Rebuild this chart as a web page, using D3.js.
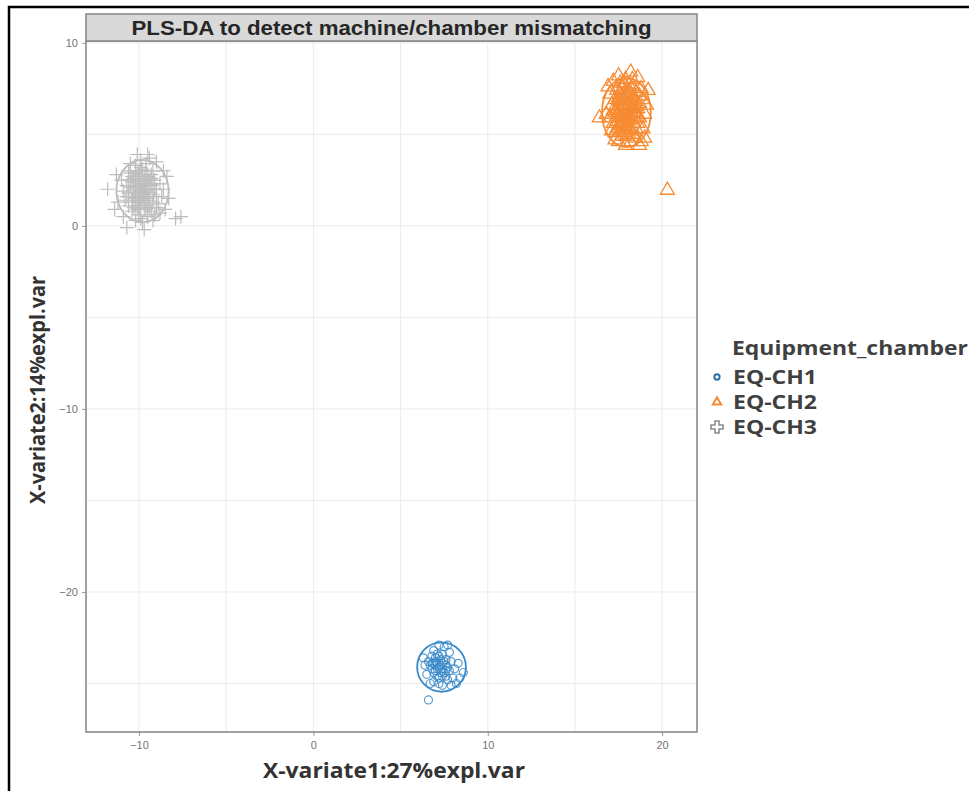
<!DOCTYPE html>
<html>
<head>
<meta charset="utf-8">
<script src="https://cdn.jsdelivr.net/npm/d3@7"></script>
<style>
  body { margin: 0; background: #fff; }
  svg { display: block; }
</style>
</head>
<body>
<svg id="chart" width="969" height="791"></svg>
<script>
// data
const groups = ["EQ-CH1", "EQ-CH2", "EQ-CH3"];
const colors = ["#3a89c9", "#f68b33", "#bdbdbd"];

const ch1Points = [
  [7.3,-24.0],[7.0,-23.6],[7.6,-24.3],[6.8,-24.2],[7.4,-23.4],[7.9,-23.8],[6.6,-23.8],[7.1,-24.6],
  [7.7,-24.8],[6.9,-23.2],[7.5,-23.0],[8.1,-24.2],[6.5,-24.5],[7.2,-25.0],[7.8,-23.3],[6.7,-25.0],
  [8.0,-24.7],[7.3,-23.7],[6.9,-24.9],[7.6,-23.7],[7.0,-24.3],[8.3,-23.9],[6.4,-24.0],[7.4,-25.1],
  [7.9,-25.1],[6.8,-23.5],[7.2,-22.9],[8.6,-24.4],[8.2,-25.0],[6.6,-25.9],[7.5,-24.4],[7.1,-23.9],
  [6.3,-23.6],[7.7,-22.9],[8.4,-24.7],[7.0,-24.0],[7.4,-24.2],[6.9,-23.9],[7.6,-24.0],[7.2,-23.5],
  [7.2,-24.1],[7.5,-23.8],[6.9,-24.4],[7.4,-24.6],[7.1,-23.4],[7.8,-24.3],[6.7,-24.0],[7.3,-24.4],
  [7.6,-24.6],[7.0,-23.8],[7.4,-23.9],[7.2,-24.7],[6.8,-23.9],[7.7,-24.1],[7.1,-24.2]
];
const ch2Points = [
  [17.9,6.3],[18.2,6.8],[17.6,5.9],[18.4,5.6],[17.5,6.9],[18.0,7.3],[17.3,6.2],[18.6,6.4],
  [17.8,5.3],[18.3,7.6],[17.4,7.4],[18.7,5.9],[17.7,4.9],[18.1,5.0],[17.2,5.6],[18.9,6.9],
  [17.6,7.8],[18.5,4.8],[17.1,6.6],[18.8,7.5],[17.9,8.0],[18.2,4.6],[17.3,5.1],[19.0,6.1],
  [17.0,7.2],[18.6,8.1],[17.5,4.6],[18.4,7.0],[17.8,6.6],[18.1,5.9],[17.6,6.4],[18.3,6.1],
  [17.4,5.7],[18.0,6.0],[18.7,7.1],[17.2,7.9],[18.9,5.3],[17.9,4.4],[18.5,5.3],[17.0,5.9],
  [19.1,6.6],[16.4,5.9],[18.2,8.4],[17.5,8.2],[18.8,4.6],[19.0,4.8],[17.3,4.7],[16.8,6.1],
  [17.7,7.1],[18.4,6.5],[17.8,5.7],[18.0,6.9],[18.6,5.6],[17.1,5.2],[18.3,8.0],[17.6,5.5],
  [18.1,7.7],[19.2,7.4],[16.9,7.6],[18.7,4.4],[17.9,6.0],[18.2,6.4],[17.7,6.2],[18.0,5.5],
  [17.5,6.5],[18.3,5.3],[17.8,7.0],[18.5,6.8],[20.3,1.95],
  [17.7,6.0],[18.1,6.6],[17.5,6.1],[18.3,6.9],[17.9,5.4],[17.6,6.8],[18.2,5.8],[17.4,6.4],
  [18.0,7.1],[17.8,5.9],[18.4,6.2],[17.6,5.2],[18.1,5.4],[17.3,6.9],[18.5,7.3],[17.7,7.5],
  [18.2,7.2],[17.5,5.4],[18.0,4.9],[17.9,6.8],[18.3,5.0],[17.4,6.0],[18.6,6.0],[17.8,7.8],
  [18.1,6.2],[17.6,7.2],[18.4,5.9],[17.2,6.3],[18.7,6.7],[17.9,5.1],[18.0,6.5],[17.7,5.6],
  [18.3,6.6],[17.5,7.0],[18.2,5.2],[17.8,6.4],[18.5,6.1],[17.4,5.3],[18.1,7.4],[17.6,6.6]
];
const ch3Points = [
  [-9.9,1.9],[-9.5,2.3],[-10.2,1.5],[-9.7,1.2],[-10.4,2.4],[-9.2,1.7],[-10.0,2.8],[-9.6,0.9],
  [-10.6,1.8],[-9.1,2.5],[-10.3,1.0],[-9.8,3.1],[-9.4,1.4],[-10.1,2.1],[-9.3,0.8],[-10.8,1.4],
  [-9.0,2.0],[-10.5,2.9],[-9.6,3.4],[-10.0,0.6],[-8.9,1.2],[-10.7,2.2],[-9.2,3.0],[-9.9,0.4],
  [-10.2,3.3],[-8.8,2.3],[-10.9,1.9],[-9.5,0.5],[-9.7,2.6],[-10.1,1.3],[-9.4,2.0],[-10.4,0.8],
  [-9.0,1.0],[-9.8,1.6],[-10.3,2.6],[-9.3,2.8],[-10.6,1.1],[-8.7,1.6],[-9.9,3.6],[-10.0,1.8],
  [-9.1,0.6],[-10.5,3.4],[-9.6,1.9],[-8.6,2.0],[-11.0,2.5],[-9.8,0.2],[-10.2,0.3],[-8.5,0.9],
  [-11.2,1.3],[-9.4,3.7],[-10.6,3.0],[-9.2,0.3],[-8.8,0.7],[-7.9,0.4],[-7.6,0.5],[-10.7,-0.1],
  [-11.8,2.0],[-8.4,2.7],[-11.3,2.8],[-9.5,3.9],[-10.1,3.9],[-8.3,1.5],[-11.4,0.9],[-9.7,-0.2],
  [-10.9,0.5],[-8.6,3.0],[-9.0,3.5],[-10.4,1.6],[-9.9,2.3],[-9.5,1.1],[-10.0,1.4],[-9.7,2.0],
  [-9.8,2.0],[-10.1,1.7],[-9.6,2.2],[-10.3,2.0],[-9.4,1.8],[-10.0,2.5],[-9.7,1.4],[-10.2,2.2],
  [-9.5,2.7],[-10.4,1.3],[-9.3,2.2],[-9.9,1.1],[-10.0,3.0],[-9.6,1.6],[-10.5,2.1],[-9.2,1.3],
  [-9.8,2.8],[-10.2,1.1],[-9.4,2.5],[-10.1,2.7],[-9.7,0.9],[-10.6,2.5],[-9.1,2.0],[-9.9,3.2],
  [-10.3,1.6],[-9.5,1.5],[-10.0,1.0],[-9.3,2.6],[-10.7,1.6],[-9.6,3.0],[-9.9,1.5],[-10.2,2.9],
  [-9.4,1.0],[-10.1,0.9],[-9.0,1.6],[-9.8,2.4],[-10.4,2.7],[-9.2,2.3],[-10.0,2.2],[-9.7,1.8]
];
// confidence ellipses: centre x, centre y, half-width, half-height
const ellipses = [
  [7.35, -24.1, 1.4, 1.35],
  [17.95, 6.2, 1.4, 1.9],
  [-9.8, 1.9, 1.5, 1.7]
];
const xTicks = [-10, 0, 10, 20];
const yTicks = [10, 0, -10, -20];
const xGrid = [-10, -5, 0, 5, 10, 15, 20];
const yGrid = [10, 5, 0, -5, -10, -15, -20, -25];

const svg = d3.select("#chart");
const panel = { left: 86, right: 697, top: 41, bottom: 732 };

// outer frame
svg.append("path")
  .attr("d", "M9,791 L9,7 L969,7")
  .attr("fill", "none").attr("stroke", "#000").attr("stroke-width", 2.5);

const x = d3.scaleLinear().domain([-13.04, 22.0]).range([panel.left, panel.right]);
const y = d3.scaleLinear().domain([-27.65, 10.1]).range([panel.bottom, panel.top]);

// grid
const grid = svg.append("g");
grid.selectAll(".vg").data(xGrid).enter().append("line")
  .attr("x1", d => x(d)).attr("x2", d => x(d))
  .attr("y1", panel.top).attr("y2", panel.bottom)
  .attr("stroke", "#ebebeb").attr("stroke-width", 1);
grid.selectAll(".hg").data(yGrid).enter().append("line")
  .attr("y1", d => y(d)).attr("y2", d => y(d))
  .attr("x1", panel.left).attr("x2", panel.right)
  .attr("stroke", "#ebebeb").attr("stroke-width", 1);

// axes
const xAxis = svg.append("g")
  .attr("transform", `translate(0,${panel.bottom})`)
  .call(d3.axisBottom(x).tickValues(xTicks).tickSize(4).tickPadding(5));
const yAxis = svg.append("g")
  .attr("transform", `translate(${panel.left},0)`)
  .call(d3.axisLeft(y).tickValues(yTicks).tickSize(4).tickPadding(4));
[xAxis, yAxis].forEach(a => {
  a.select(".domain").remove();
  a.selectAll("line").attr("stroke", "#999");
  a.selectAll("text").attr("fill", "#737373")
    .style("font-family", "Liberation Sans, Arial, sans-serif").style("font-size", "11px");
});

// ellipses
const ellG = svg.append("g");
ellG.selectAll("ellipse").data(ellipses).enter().append("ellipse")
  .attr("cx", d => x(d[0])).attr("cy", d => y(d[1]))
  .attr("rx", d => x(d[0] + d[2]) - x(d[0]))
  .attr("ry", d => y(d[1]) - y(d[1] + d[3]))
  .attr("fill", "none")
  .attr("stroke", (d, i) => colors[i]).attr("stroke-width", 1.8);

// points
const ptG = svg.append("g");
ptG.selectAll(".c1").data(ch1Points).enter().append("circle")
  .attr("cx", d => x(d[0])).attr("cy", d => y(d[1])).attr("r", 4)
  .attr("fill", "none").attr("stroke", colors[0]).attr("stroke-width", 1.2).attr("opacity", 0.85);
const tri = d3.symbol().type(d3.symbolTriangle).size(85);
ptG.selectAll(".c2").data(ch2Points).enter().append("path")
  .attr("d", tri)
  .attr("transform", d => `translate(${x(d[0])},${y(d[1])})`)
  .attr("fill", "none").attr("stroke", colors[1]).attr("stroke-width", 1.3);
ptG.selectAll(".c3").data(ch3Points).enter().append("path")
  .attr("d", "M-7,0H7M0,-7V7")
  .attr("transform", d => `translate(${x(d[0])},${y(d[1])})`)
  .attr("fill", "none").attr("stroke", colors[2]).attr("stroke-width", 1.2);

// panel border
svg.append("rect")
  .attr("x", panel.left).attr("y", panel.top)
  .attr("width", panel.right - panel.left).attr("height", panel.bottom - panel.top)
  .attr("fill", "none").attr("stroke", "#8a8a8a").attr("stroke-width", 1.6);

// title strip
svg.append("rect")
  .attr("x", panel.left).attr("y", 14)
  .attr("width", panel.right - panel.left).attr("height", panel.top - 14)
  .attr("fill", "#d9d9d9").attr("stroke", "#8a8a8a").attr("stroke-width", 1.6);
svg.append("text")
  .attr("x", (panel.left + panel.right) / 2).attr("y", 35)
  .attr("text-anchor", "middle")
  .attr("textLength", 520).attr("lengthAdjust", "spacingAndGlyphs")
  .style("font-family", "Liberation Sans, Arial, sans-serif")
  .style("font-size", "21px").style("font-weight", "bold").attr("fill", "#262626")
  .text("PLS-DA to detect machine/chamber mismatching");

// axis titles
svg.append("text")
  .attr("x", 394).attr("y", 778)
  .attr("text-anchor", "middle")
  .attr("textLength", 262).attr("lengthAdjust", "spacingAndGlyphs")
  .style("font-family", "Open Sans, sans-serif")
  .style("font-size", "21px").style("font-weight", "bold").attr("fill", "#333")
  .text("X-variate1:27%expl.var");
svg.append("text")
  .attr("transform", "translate(45,390) rotate(-90)")
  .attr("text-anchor", "middle")
  .attr("textLength", 228).attr("lengthAdjust", "spacingAndGlyphs")
  .style("font-family", "Open Sans, sans-serif")
  .style("font-size", "21px").style("font-weight", "bold").attr("fill", "#333")
  .text("X-variate2:14%expl.var");

// legend
const leg = svg.append("g").attr("transform", "translate(717,0)");
leg.append("text").attr("x", 15).attr("y", 355)
  .attr("textLength", 236).attr("lengthAdjust", "spacingAndGlyphs")
  .style("font-family", "Open Sans, sans-serif")
  .style("font-size", "20px").style("font-weight", "bold").attr("fill", "#404040")
  .text("Equipment_chamber");
const items = leg.selectAll(".item").data(groups).enter().append("g")
  .attr("transform", (d, i) => `translate(0,${377 + i * 25})`);
items.append("path")
  .attr("d", (d, i) => i === 0 ? d3.symbol().type(d3.symbolCircle).size(22)()
    : i === 1 ? d3.symbol().type(d3.symbolTriangle).size(30)()
    : "M-2,-6H2V-2H6V2H2V6H-2V2H-6V-2H-2Z")
  .attr("fill", "none").attr("stroke", (d, i) => i === 2 ? "#8c8c8c" : i === 1 ? colors[1] : "#2f6fa6")
  .attr("stroke-width", (d, i) => i === 2 ? 1.6 : 2);
items.append("text").attr("x", 16).attr("y", 7)
  .attr("textLength", 84).attr("lengthAdjust", "spacingAndGlyphs")
  .style("font-family", "Open Sans, sans-serif")
  .style("font-size", "20px").style("font-weight", "bold").attr("fill", "#404040")
  .text(d => d);
</script>
</body>
</html>
